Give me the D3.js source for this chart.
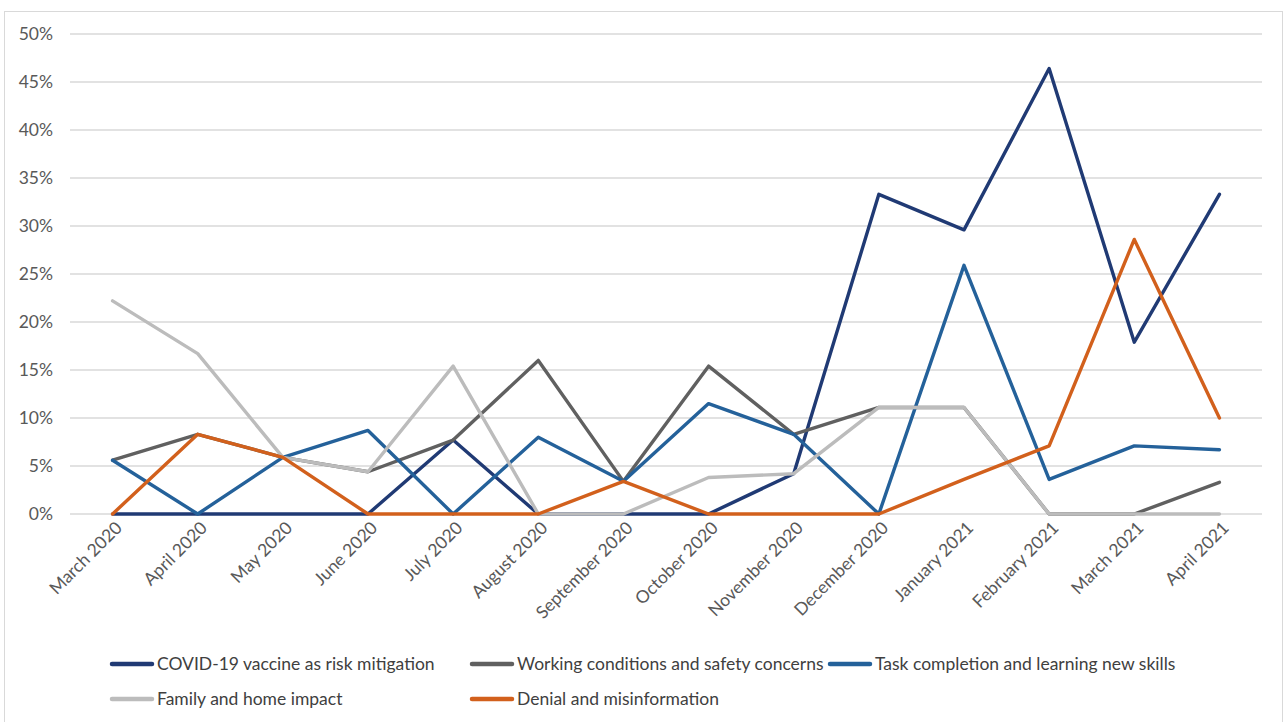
<!DOCTYPE html>
<html>
<head>
<meta charset="utf-8">
<script src="https://cdn.jsdelivr.net/npm/d3@7"></script>
<style>
  html, body { margin: 0; padding: 0; background: #fff; }
  svg { display: block; font-family: Lato, "Open Sans", sans-serif; }
</style>
</head>
<body>
<svg id="chart" width="1285" height="722"></svg>
<script>
// Months on the x axis
const months = ['March 2020', 'April 2020', 'May 2020', 'June 2020', 'July 2020', 'August 2020',
    'September 2020', 'October 2020', 'November 2020', 'December 2020', 'January 2021',
    'February 2021', 'March 2021', 'April 2021'];

// Share of mentions per theme (%)
const vaccine   = [0, 0, 0, 0, 7.7, 0, 0, 0, 4.2, 33.3, 29.6, 46.4, 17.9, 33.3];
const working   = [5.6, 8.3, 5.9, 4.4, 7.7, 16.0, 3.4, 15.4, 8.3, 11.1, 11.1, 0, 0, 3.3];
const task      = [5.6, 0, 5.9, 8.7, 0, 8.0, 3.4, 11.5, 8.3, 0, 25.9, 3.6, 7.1, 6.7];
const family    = [22.2, 16.7, 5.9, 4.4, 15.4, 0, 0, 3.8, 4.2, 11.1, 11.1, 0, 0, 0];
const denial    = [0, 8.3, 5.9, 0, 0, 0, 3.4, 0, 0, 0, 3.6, 7.1, 28.6, 10.0];

const seriesNames = ['COVID-19 vaccine as risk mitigation', 'Working conditions and safety concerns',
    'Task completion and learning new skills', 'Family and home impact', 'Denial and misinformation'];
const seriesValues = [vaccine, working, task, family, denial];
const seriesColors = ['#203a74', '#606060', '#24619a', '#bcbcbc', '#d2601c'];

const yTicks = [0, 5, 10, 15, 20, 25, 30, 35, 40, 45, 50];

const svg = d3.select('#chart');
const plot = { left: 70, right: 1262, top: 34, bottom: 514 };
const fontSize = 17.5;

// outer frame
svg.append('rect')
    .attr('x', 4.5).attr('y', 11.5)
    .attr('width', 1278).attr('height', 730)
    .attr('fill', 'none').attr('stroke', '#d9d9d9').attr('stroke-width', 1);

const x = d3.scalePoint().domain(months).range([plot.left, plot.right]).padding(0.5);
const y = d3.scaleLinear().domain([0, 50]).range([plot.bottom, plot.top]);

// gridlines
svg.append('g')
    .selectAll('line')
    .data(yTicks)
    .join('line')
    .attr('x1', plot.left).attr('x2', plot.right)
    .attr('y1', d => y(d)).attr('y2', d => y(d))
    .attr('stroke', '#d9d9d9').attr('stroke-width', 1.3);

// y axis labels
const yAxis = svg.append('g')
    .attr('transform', `translate(${plot.left - 17},0)`)
    .call(d3.axisLeft(y).tickValues(yTicks).tickFormat(d => d + '%').tickSize(0));
yAxis.select('.domain').remove();
yAxis.selectAll('text')
    .attr('font-family', 'Lato, "Open Sans", sans-serif')
    .attr('font-size', fontSize)
    .attr('fill', '#595959')
    .attr('x', 0);

// x axis labels, rotated
const xAxis = svg.append('g')
    .attr('transform', `translate(0,${plot.bottom})`)
    .call(d3.axisBottom(x).tickSize(0));
xAxis.select('.domain').remove();
xAxis.selectAll('text')
    .attr('font-family', 'Lato, "Open Sans", sans-serif')
    .attr('font-size', fontSize)
    .attr('fill', '#595959')
    .attr('text-anchor', 'end')
    .attr('dy', 0)
    .attr('y', 0)
    .attr('transform', 'translate(10,15) rotate(-45)');

// lines
const line = d3.line()
    .x((d, i) => x(months[i]))
    .y(d => y(d));

svg.append('g')
    .selectAll('path')
    .data(seriesValues)
    .join('path')
    .attr('d', d => line(d))
    .attr('fill', 'none')
    .attr('stroke', (d, i) => seriesColors[i])
    .attr('stroke-width', 3.4)
    .attr('stroke-linejoin', 'round')
    .attr('stroke-linecap', 'round');

// legend
const legendPos = [[112, 664], [472, 664], [830, 664], [112, 699], [472, 699]];
const legend = svg.append('g');
seriesNames.forEach((name, i) => {
    const [lx, ly] = legendPos[i];
    legend.append('line')
        .attr('x1', lx).attr('x2', lx + 40)
        .attr('y1', ly).attr('y2', ly)
        .attr('stroke', seriesColors[i])
        .attr('stroke-width', 4.5)
        .attr('stroke-linecap', 'round');
    legend.append('text')
        .attr('x', lx + 45)
        .attr('y', ly)
        .attr('dy', '0.35em')
        .attr('font-size', fontSize)
        .attr('fill', '#404040')
        .text(name);
});
</script>
</body>
</html>
